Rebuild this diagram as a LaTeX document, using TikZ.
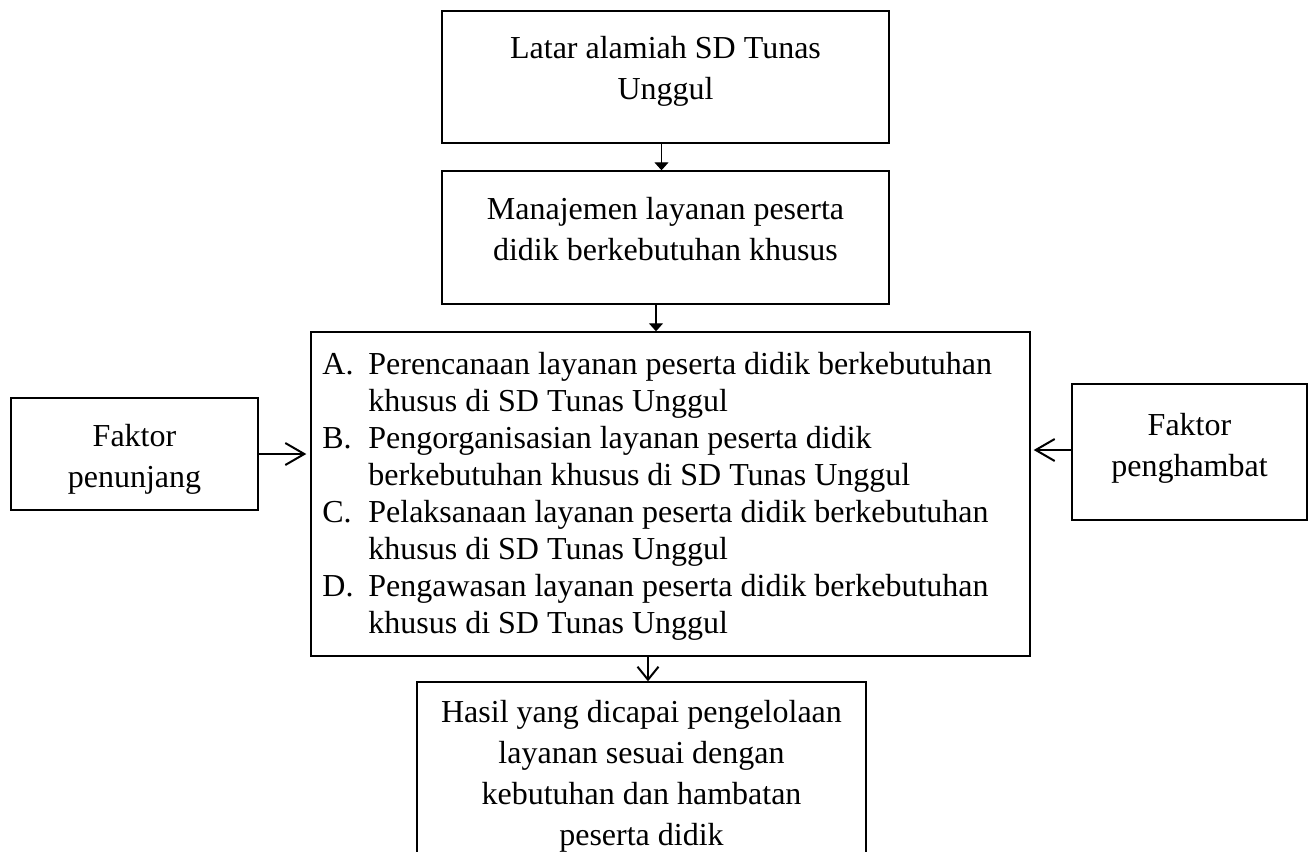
\documentclass[tikz,border=0pt]{standalone}
\usepackage{fontspec}
\setmainfont{Liberation Serif}
\usetikzlibrary{arrows.meta}
\begin{document}
\begin{tikzpicture}[x=0.5pt,y=-0.5pt,
  box/.style={draw, line width=0.7pt, fill=white, inner sep=0pt},
  txt/.style={align=center, font=\fontsize{16}{20.5}\selectfont, inner sep=0pt},
  smallarr/.style={line width=0.6pt, -{Triangle[width=7pt,length=4pt]}},
  openarr/.style={line width=0.9pt, -{Straight Barb[width=10.5pt,length=6.5pt,line width=1pt]}},
  sidearr/.style={line width=0.9pt, -{Straight Barb[width=11pt,length=9.5pt,line width=1pt]}}]
\useasboundingbox (0,0) rectangle (1314,852);
\clip (0,0) rectangle (1314,852);
\fill[white] (0,0) rectangle (1314,852);
% boxes
\node[box, minimum width=223.5pt, minimum height=66pt] (latar) at (665.5,77) {};
\node[txt] (latart) at (665.5,71.5) {Latar alamiah SD Tunas\\Unggul};
\node[box, minimum width=223.5pt, minimum height=66.5pt] (mgmt) at (665.5,237.5) {};
\node[txt] (mgmtt) at (665.5,229) {Manajemen layanan peserta\\didik berkebutuhan khusus};
\node[box, minimum width=359.5pt, minimum height=162pt] (big) at (670.5,494) {};
\node[anchor=west, inner sep=0pt, font=\fontsize{16}{18.5}\selectfont] (bigt) at (322,497) {%
  \begin{tabular}{@{}p{23pt}@{}l@{}}
  A. & Perencanaan layanan peserta didik berkebutuhan\\
     & khusus di SD Tunas Unggul\\
  B. & Pengorganisasian layanan peserta didik\\
     & berkebutuhan khusus di SD Tunas Unggul\\
  C. & Pelaksanaan layanan peserta didik berkebutuhan\\
     & khusus di SD Tunas Unggul\\
  D. & Pengawasan layanan peserta didik berkebutuhan\\
     & khusus di SD Tunas Unggul
  \end{tabular}};
\node[box, minimum width=123.5pt, minimum height=56pt] (pen) at (134.5,454) {};
\node[txt] (pent) at (134.5,459) {Faktor\\penunjang};
\node[box, minimum width=117.5pt, minimum height=68pt] (ham) at (1189.5,452) {};
\node[txt] (hamt) at (1189.5,448.5) {Faktor\\penghambat};
\node[box, minimum width=224.5pt, minimum height=110pt] (hasil) at (641.5,792) {};
\node[txt] (hasilt) at (641.5,776) {Hasil yang dicapai pengelolaan\\layanan sesuai dengan\\kebutuhan dan hambatan\\peserta didik};
% connectors
\draw[smallarr] ([xshift=-2pt]latar.south) -- ([xshift=-2pt]mgmt.north);
\draw[smallarr] ([xshift=-4.75pt]mgmt.south) -- ([xshift=-4.75pt]mgmt.south |- big.north);
\draw[openarr] ([xshift=-11.25pt]big.south) -- ([xshift=-11.25pt]big.south |- hasil.north);
\draw[sidearr, shorten >=2pt] (pen.east) -- (pen.east -| big.west);
\draw[sidearr, shorten >=1.5pt] ([yshift=1pt]ham.west) -- ([yshift=1pt]ham.west -| big.east);
\end{tikzpicture}
\end{document}
